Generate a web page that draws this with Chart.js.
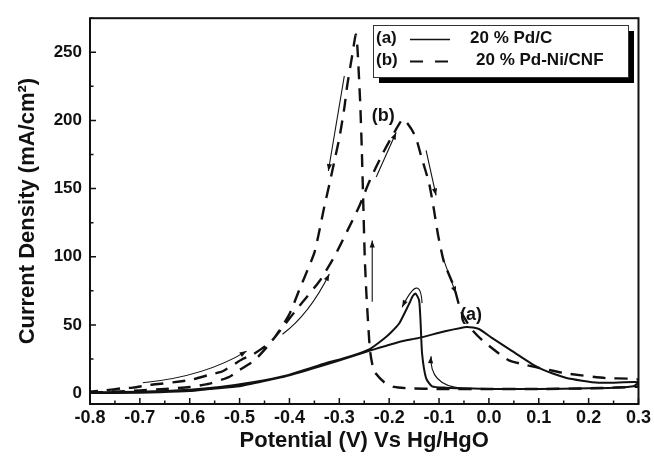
<!DOCTYPE html>
<html><head><meta charset="utf-8">
<script src="https://cdn.jsdelivr.net/npm/chart.js@4.4.1/dist/chart.umd.min.js"></script>
<style>html,body{margin:0;padding:0;background:#fff;}</style>
</head><body>
<canvas id="c" width="654" height="458"></canvas>
<script>
// ---- tick labels ----
const xTicks = [-0.8,-0.7,-0.6,-0.5,-0.4,-0.3,-0.2,-0.1,0.0,0.1,0.2,0.3];
const yTicks = [0,50,100,150,200,250];

// ---- series (a) 20 % Pd/C : forward then reverse scan ----
const aPotential = [-0.80,-0.70,-0.66,-0.60,-0.56,-0.50,-0.474,-0.406,-0.34,-0.274,-0.24,-0.18,-0.14,-0.086,-0.044,-0.02,0.006,0.046,0.10,0.154,0.22,0.30,
                    0.29,0.25,0.20,0.10,0.0,-0.05,-0.086,-0.114,-0.126,-0.134,-0.137,-0.14,-0.147,-0.153,-0.158,-0.166,-0.18,-0.195,-0.21,-0.24,-0.274,-0.34,-0.406,-0.474,-0.54,-0.60,-0.70,-0.80];
const aCurrent   = [0,0.3,0.6,1.5,3,5,7,12.5,19.5,27,31,37.5,40.5,45.5,48.5,47,40.5,31,18.5,11.3,7.6,8,
                    5,4,3.5,3,3,3.5,4,5,11,29,52,68,73,71,67,61,51,45,40,32,27.5,20.5,13,8,4.5,2.5,1,0.5];

// ---- series (b) 20 % Pd-Ni/CNF : forward then reverse scan ----
const bPotential = [-0.80,-0.75,-0.70,-0.65,-0.60,-0.56,-0.52,-0.50,-0.47,-0.44,-0.41,-0.38,-0.34,-0.31,-0.284,-0.26,-0.24,-0.214,-0.19,-0.172,-0.156,-0.146,-0.136,-0.12,-0.11,-0.102,-0.09,-0.07,-0.056,-0.035,-0.014,0.02,0.04,0.07,0.094,0.154,0.234,0.30,
                    0.30,0.25,0.20,0.10,0.0,-0.10,-0.16,-0.19,-0.21,-0.23,-0.238,-0.242,-0.246,-0.249,-0.252,-0.255,-0.258,-0.261,-0.264,-0.267,-0.274,-0.284,-0.29,-0.30,-0.31,-0.32,-0.33,-0.34,-0.35,-0.364,-0.38,-0.40,-0.434,-0.474,-0.494,-0.534,-0.56,-0.594,-0.62,-0.654,-0.68,-0.714,-0.736,-0.77,-0.80];
const bCurrent   = [0.5,1,2,3,4.5,7,12,17,24,36,50,64,82,100,119,137,155,175,191,201,194,187,174,154,134,116,96,78,60,47,39,29,24,21,19,14.5,11,10,
                    5,4,3.5,3,3,3,3.5,4.5,8,16,30,50,75,100,140,180,212,235,255,263,248,226,209,187,170,153,137,119,103,90,76,58,39,28,25,16,13.5,10,8.5,7,6,4,3.5,2,1];

const seriesTags  = ['(a)','(b)'];
const seriesNames = ['20 % Pd/C','20 % Pd-Ni/CNF'];

// curve labels placed in data space [potential, current]
const curveLabels = [['(a)', -0.036, 57.5], ['(b)', -0.212, 203]];

// scan-direction arrows in data space: start, [control], end
const arrows = [
  [[-0.29,232.6],[-0.322,162.9]],
  [[-0.226,158.5],[-0.186,191.2]],
  [[-0.414,43.2],[-0.36,58],[-0.32,87.4]],
  [[-0.694,7.6],[-0.57,12],[-0.486,30.8]],
  [[-0.234,67],[-0.234,112]],
  [[-0.126,178],[-0.106,145]],
  [[-0.094,101],[-0.066,73]],
  [[-0.134,66],[-0.138,89.5],[-0.174,63]],
  [[-0.054,3.5],[-0.12,5.5],[-0.116,27]]
];

const FONT = "'Liberation Sans', Arial, sans-serif";
const INK = '#111';

function pts(xs, ys){ return xs.map((v,i)=>({x:v, y:ys[i]})); }

const decor = {
  id: 'decor',
  afterDatasetsDraw(chart){
    const {ctx, chartArea: ca, scales: {x, y}} = chart;
    ctx.save();
    ctx.strokeStyle = INK; ctx.fillStyle = INK;
    // frame
    ctx.lineWidth = 2;
    ctx.strokeRect(ca.left, ca.top, ca.right - ca.left, ca.bottom - ca.top);
    // inward ticks
    ctx.lineWidth = 1.5;
    ctx.beginPath();
    const xMinor = xTicks.slice(0,-1).map((v,i)=>(v + xTicks[i+1]) / 2);
    xTicks.forEach(v=>{ const px = x.getPixelForValue(v); ctx.moveTo(px, ca.bottom); ctx.lineTo(px, ca.bottom - 6); });
    xMinor.forEach(v=>{ const px = x.getPixelForValue(v); ctx.moveTo(px, ca.bottom); ctx.lineTo(px, ca.bottom - 3.5); });
    const yMinor = yTicks.map(v=>v + (yTicks[1]-yTicks[0]) / 2);
    yTicks.forEach(v=>{ const py = y.getPixelForValue(v); ctx.moveTo(ca.left, py); ctx.lineTo(ca.left + 6, py); });
    yMinor.forEach(v=>{ const py = y.getPixelForValue(v); ctx.moveTo(ca.left, py); ctx.lineTo(ca.left + 3.5, py); });
    ctx.stroke();

    // arrows
    ctx.lineWidth = 1.1;
    arrows.forEach(a=>{
      const p = a.map(q=>[x.getPixelForValue(q[0]), y.getPixelForValue(q[1])]);
      ctx.beginPath();
      ctx.moveTo(p[0][0], p[0][1]);
      let from;
      if (p.length === 3){ ctx.quadraticCurveTo(p[1][0], p[1][1], p[2][0], p[2][1]); from = p[1]; }
      else { ctx.lineTo(p[1][0], p[1][1]); from = p[0]; }
      ctx.stroke();
      const end = p[p.length-1];
      const ang = Math.atan2(end[1]-from[1], end[0]-from[0]);
      const L = 7, W = 2.6;
      ctx.beginPath();
      ctx.moveTo(end[0], end[1]);
      ctx.lineTo(end[0] - L*Math.cos(ang) + W*Math.sin(ang), end[1] - L*Math.sin(ang) - W*Math.cos(ang));
      ctx.lineTo(end[0] - L*Math.cos(ang) - W*Math.sin(ang), end[1] - L*Math.sin(ang) + W*Math.cos(ang));
      ctx.closePath(); ctx.fill();
    });

    // curve labels
    ctx.font = 'bold 18px ' + FONT;
    ctx.textAlign = 'center'; ctx.textBaseline = 'middle';
    curveLabels.forEach(l=>{ ctx.fillText(l[0], x.getPixelForValue(l[1]), y.getPixelForValue(l[2])); });

    // legend box with shadow
    const bx = 373, by = 25, bw = 255, bh = 52;
    ctx.fillStyle = '#000';
    ctx.fillRect(bx + 6, by + 6, bw, bh);
    ctx.fillStyle = '#fff';
    ctx.fillRect(bx, by, bw, bh);
    ctx.strokeStyle = '#333'; ctx.lineWidth = 1;
    ctx.strokeRect(bx + 0.5, by + 0.5, bw, bh);
    ctx.fillStyle = INK; ctx.strokeStyle = INK;
    ctx.font = 'bold 17px ' + FONT;
    ctx.textAlign = 'left'; ctx.textBaseline = 'middle';
    const rows = [38.5, 60.5];
    ctx.fillText(seriesTags[0], 376, rows[0]);
    ctx.fillText(seriesTags[1], 376, rows[1]);
    ctx.lineWidth = 1.6;
    ctx.beginPath(); ctx.moveTo(410, rows[0] + 1); ctx.lineTo(450, rows[0] + 1); ctx.stroke();
    ctx.lineWidth = 2;
    ctx.beginPath(); ctx.moveTo(410, rows[1] + 1); ctx.lineTo(423, rows[1] + 1);
    ctx.moveTo(435, rows[1] + 1); ctx.lineTo(448, rows[1] + 1); ctx.stroke();
    ctx.fillText(seriesNames[0], 470, rows[0]);
    ctx.fillText(seriesNames[1], 476, rows[1]);
    ctx.restore();
  }
};

new Chart(document.getElementById('c'), {
  type: 'scatter',
  data: {
    datasets: [
      { label: seriesNames[0], data: pts(aPotential, aCurrent), showLine: true, borderColor: INK, borderWidth: 2,
        pointRadius: 0, tension: 0.2, fill: false },
      { label: seriesNames[1], data: pts(bPotential, bCurrent), showLine: true, borderColor: INK, borderWidth: 2.4,
        borderDash: [13, 9], pointRadius: 0, tension: 0.2, fill: false }
    ]
  },
  options: {
    responsive: false, animation: false, devicePixelRatio: 1,
    layout: { padding: { top: 14, right: 14, left: 0, bottom: 0 } },
    plugins: { legend: { display: false }, tooltip: { enabled: false } },
    scales: {
      x: {
        type: 'linear', min: -0.8, max: 0.3,
        afterBuildTicks: s => { s.ticks = xTicks.map(v => ({ value: v })); },
        afterFit: s => { s.height = 54; },
        ticks: { callback: v => Number(v).toFixed(1), color: INK, padding: 3, maxRotation: 0, autoSkip: false,
                 font: { family: FONT, weight: 'bold', size: 18 } },
        grid: { display: false, drawTicks: false }, border: { display: false },
        title: { display: true, text: 'Potential (V) Vs Hg/HgO', color: INK,
                 font: { family: FONT, weight: 'bold', size: 22 }, padding: { top: 0, bottom: 4 } }
      },
      y: {
        type: 'linear', min: -8, max: 275,
        afterBuildTicks: s => { s.ticks = yTicks.map(v => ({ value: v })); },
        afterFit: s => { s.width = 90; },
        ticks: { callback: v => String(v), color: INK, padding: 8, autoSkip: false,
                 font: { family: FONT, weight: 'bold', size: 17 } },
        grid: { display: false, drawTicks: false }, border: { display: false },
        title: { display: true, text: 'Current Density (mA/cm²)', color: INK,
                 font: { family: FONT, weight: 'bold', size: 22 }, padding: { top: 15, bottom: 0 } }
      }
    }
  },
  plugins: [decor]
});
</script>
</body></html>
